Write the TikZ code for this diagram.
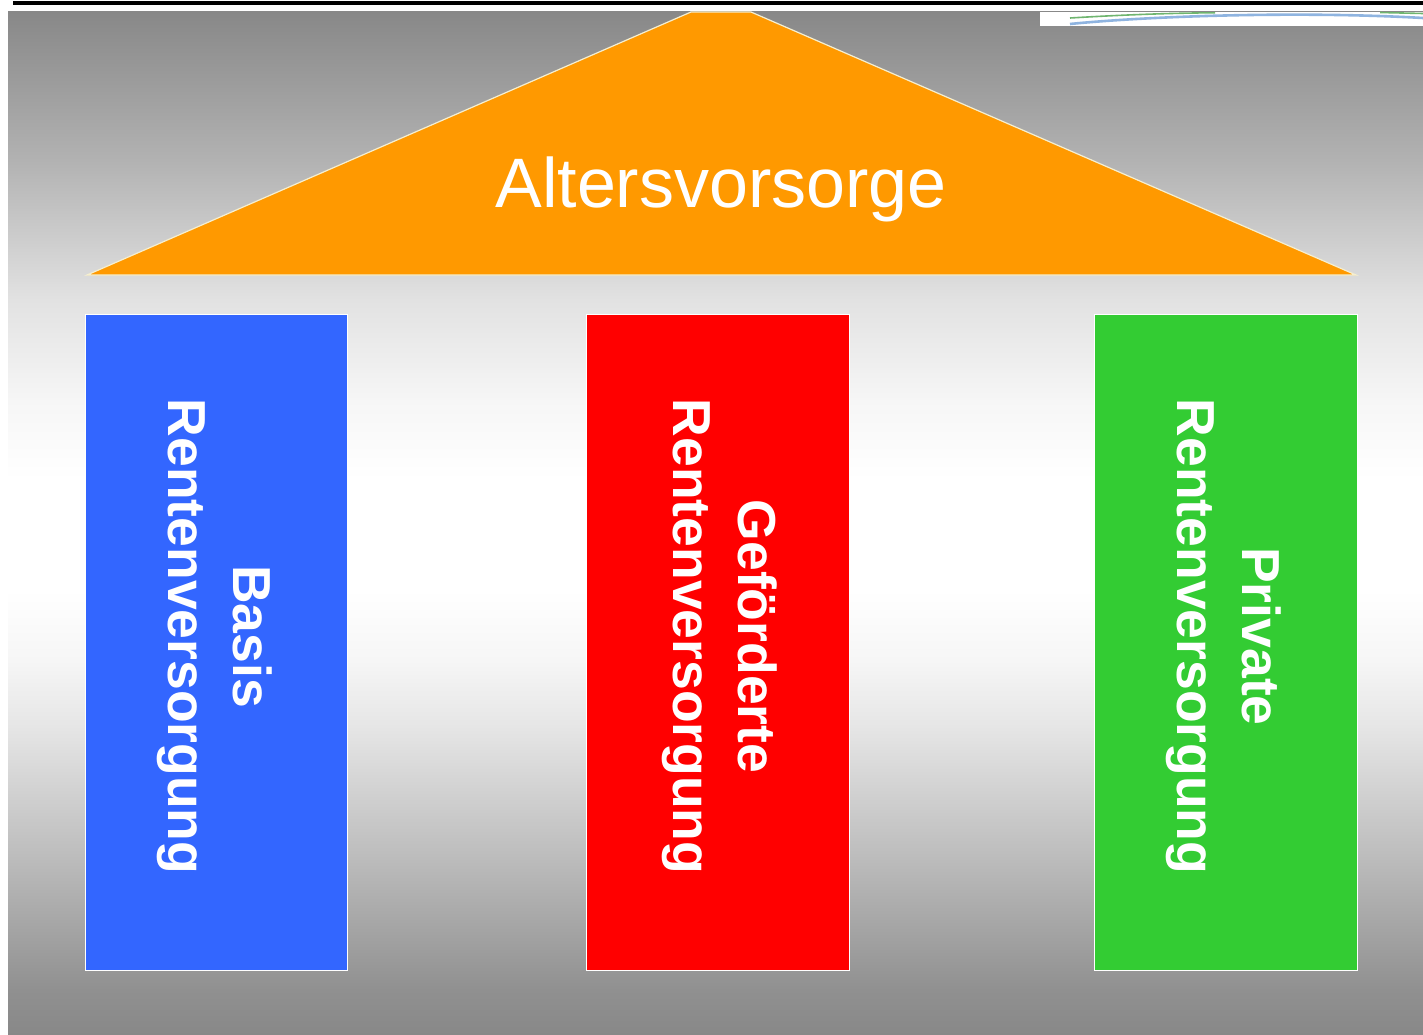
\documentclass[tikz,border=0pt]{standalone}
\usepackage{fontspec}
\setmainfont{Liberation Sans}
\definecolor{g85}{HTML}{888888}
\definecolor{ga8}{HTML}{B2B2B2}
\definecolor{gdd}{HTML}{E2E2E2}
\definecolor{gf4}{HTML}{F6F6F6}
\definecolor{ge0}{HTML}{E6E6E6}
\definecolor{gb8}{HTML}{BCBCBC}
\definecolor{g8c}{HTML}{909090}
\pgfdeclareverticalshading{bggrad}{100bp}{
  color(0bp)=(g85);
  color(25bp)=(g85);
  color(27.2bp)=(g8c);
  color(33.65bp)=(gb8);
  color(40.1bp)=(ge0);
  color(43.33bp)=(gf4);
  color(46.75bp)=(white);
  color(52.13bp)=(white);
  color(56.04bp)=(gf4);
  color(60.92bp)=(gdd);
  color(67.77bp)=(ga8);
  color(75bp)=(g85);
  color(100bp)=(g85)}
\definecolor{roofc}{HTML}{FF9900}
\definecolor{roofe}{HTML}{F5EFD0}
\definecolor{pblue}{HTML}{3366FF}
\definecolor{pred}{HTML}{FF0000}
\definecolor{pgreen}{HTML}{33CC33}
\definecolor{wavegreen}{HTML}{6FB56F}
\definecolor{waveblue}{HTML}{8FB4E0}
\tikzset{
  pillar/.style={draw=white,line width=0.9pt,minimum width=#1,minimum height=656pt,anchor=north west},
  pillartext/.style={text=white,font=\bfseries\fontsize{53.5}{65}\selectfont,rotate=-90,align=center,anchor=center},
  roof/.style={fill=roofc,draw=roofe,line width=1.2pt,line join=miter}
}
\begin{document}
\begin{tikzpicture}[x=1pt,y=-1pt]
\useasboundingbox (0,0) rectangle (1423,1035);
\fill[white] (0,0) rectangle (1423,1035);
\path[shading=bggrad,shading angle=0] (8,12) rectangle (1423,1035);
\fill[black] (13,1) rectangle (1423,5);
\fill[white] (1040,12) rectangle (1423,26);
\draw[draw=wavegreen,line width=1.6pt] (1070,18) .. controls (1120,15) and (1170,13) .. (1215,12.8);
\draw[draw=wavegreen,line width=1.6pt] (1380,12.5) -- (1423,13.5);
\draw[draw=waveblue,line width=2.6pt] (1070,24) .. controls (1150,16) and (1300,11) .. (1423,18);
\path[roof] (691,12) -- (751,12) -- (1356,275) -- (87,275) -- cycle;
\node[text=white,font=\fontsize{70}{80}\selectfont,anchor=center] (title) at (721,189) {Altersvorsorge};
\node[pillar=262pt,fill=pblue] (p1) at (85,314) {};
\node[pillar=263pt,fill=pred] (p2) at (586,314) {};
\node[pillar=263pt,fill=pgreen] (p3) at (1094,314) {};
\node[pillartext] (t1) at (214.5,636.5) {Basis\\Rentenversorgung};
\node[pillartext] (t2) at (719.5,636.5) {Geförderte\\Rentenversorgung};
\node[pillartext] (t3) at (1223.5,636.5) {Private\\Rentenversorgung};
\end{tikzpicture}
\end{document}
